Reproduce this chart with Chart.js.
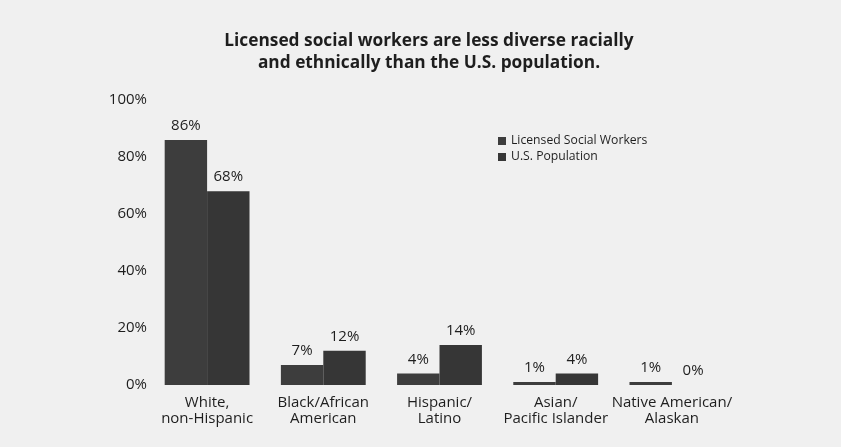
<!DOCTYPE html>
<html>
<head>
<meta charset="utf-8">
<script src="https://cdn.jsdelivr.net/npm/chart.js@4"></script>
<style>
  html, body { margin: 0; padding: 0; background: #f0f0f0; }
  #wrap { width: 841px; height: 447px; }
</style>
</head>
<body>
<div id="wrap"><canvas id="chart" width="841" height="447"></canvas></div>
<script>
// data
const categories = [
  ['White,', 'non-Hispanic'],
  ['Black/African', 'American'],
  ['Hispanic/', 'Latino'],
  ['Asian/', 'Pacific Islander'],
  ['Native American/', 'Alaskan']
];
const socialWorkers = [86, 7, 4, 1, 1];
const usPopulation = [68, 12, 14, 4, 0];
const seriesNames = ['Licensed Social Workers', 'U.S. Population'];
const yTicks = [0, 20, 40, 60, 80, 100];
const titleLines = [
  'Licensed social workers are less diverse racially',
  'and ethnically than the U.S. population.'
];

const FONT = "'Open Sans', 'Noto Sans', sans-serif";
const INK = '#1e1e1e';

// paper background
const paperBg = {
  id: 'paperBg',
  beforeDraw(chart) {
    const c = chart.ctx;
    c.save();
    c.fillStyle = '#f0f0f0';
    c.fillRect(0, 0, chart.width, chart.height);
    c.restore();
  }
};

// two-line bold heading, centred over the page rather than the plot
const heading = {
  id: 'heading',
  afterDraw(chart) {
    const c = chart.ctx;
    c.save();
    c.font = 'bold 17.3px ' + FONT;
    c.fillStyle = INK;
    c.textAlign = 'center';
    c.textBaseline = 'middle';
    titleLines.forEach((t, i) => c.fillText(t, 429, 41 + i * 22));
    c.restore();
  }
};

// percent labels on top of each bar
const valueLabels = {
  id: 'valueLabels',
  afterDatasetsDraw(chart) {
    const c = chart.ctx;
    c.save();
    c.font = '15px ' + FONT;
    c.fillStyle = INK;
    c.textAlign = 'center';
    c.textBaseline = 'middle';
    chart.data.datasets.forEach((ds, i) => {
      chart.getDatasetMeta(i).data.forEach((bar, j) => {
        c.fillText(ds.data[j] + '%', bar.x, bar.y - 14);
      });
    });
    c.restore();
  }
};

// small legend floating inside the plot
const floatLegend = {
  id: 'floatLegend',
  afterDraw(chart) {
    const c = chart.ctx;
    c.save();
    c.font = '12.2px ' + FONT;
    c.textBaseline = 'middle';
    chart.data.datasets.forEach((ds, i) => {
      const y = 141 + i * 16;
      c.fillStyle = ds.backgroundColor;
      c.fillRect(498, y - 4, 8, 8);
      c.fillStyle = INK;
      c.fillText(ds.label, 511, y);
    });
    c.restore();
  }
};

const chartConfig = {
  type: 'bar',
  data: {
    labels: categories,
    datasets: [
      { label: seriesNames[0], data: socialWorkers, backgroundColor: '#3d3d3d' },
      { label: seriesNames[1], data: usPopulation, backgroundColor: '#363636' }
    ]
  },
  options: {
    responsive: false,
    animation: false,
    layout: { padding: { left: 0, right: 111, top: 100, bottom: 10 } },
    datasets: { bar: { categoryPercentage: 0.73, barPercentage: 1.0 } },
    scales: {
      x: {
        grid: { display: false, drawTicks: false },
        border: { display: false },
        ticks: {
          color: INK,
          font: { family: FONT, size: 15, lineHeight: 1.07 },
          padding: 10,
          maxRotation: 0,
          autoSkip: false
        }
      },
      y: {
        min: 0,
        max: 100,
        grid: { display: false, drawTicks: false },
        border: { display: false },
        afterFit(scale) { scale.width = 149; },
        afterBuildTicks(scale) { scale.ticks = yTicks.map(v => ({ value: v })); },
        ticks: {
          color: INK,
          font: { family: FONT, size: 15 },
          padding: 2,
          callback: v => v + '%'
        }
      }
    },
    plugins: {
      legend: { display: false },
      tooltip: { enabled: false },
      title: { display: false }
    }
  },
  plugins: [paperBg, valueLabels, floatLegend, heading]
};

const ctx = document.getElementById('chart').getContext('2d');
const barChart = new Chart(ctx, chartConfig);
</script>
</body>
</html>
